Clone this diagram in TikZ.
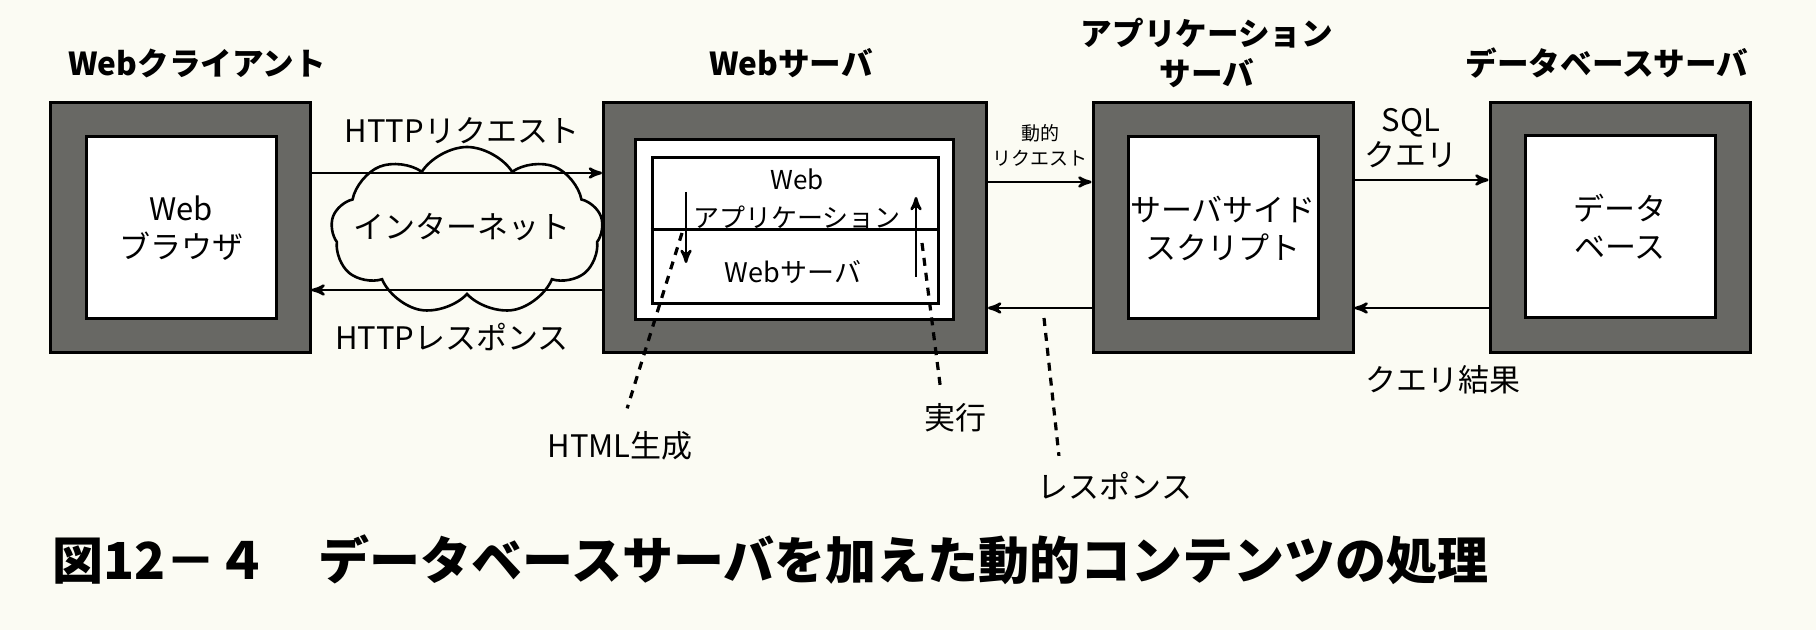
\documentclass[tikz,border=0pt]{standalone}
\usepackage{fontspec}
\setmainfont{Noto Sans CJK JP}
\usepackage{tikz}
\usetikzlibrary{calc}
\usetikzlibrary{positioning}
\usetikzlibrary{shapes}
\usetikzlibrary{arrows}
\definecolor{paper}{RGB}{251,251,243}
\definecolor{frame}{RGB}{104,104,100}
\tikzset{
  lbl/.style = {align=center, inner sep=0pt, text centered,
    font=\fontsize{15.5}{19}\selectfont},
  hdr/.style = {lbl, font=\fontsize{15.8}{20}\selectfont\bfseries},  % title above a box
  srv_out/.style = {rectangle, draw=black, line width=1.5pt, fill=frame,
    minimum width=130pt, minimum height=125pt},                      % gray frame
  srv_in/.style = {lbl, rectangle, draw=black, line width=1.5pt, fill=white,
    minimum width=95pt, minimum height=91pt},                        % white inside
  flow/.style = {->, line width=1.3pt},                              % data arrow
  ptr/.style = {line width=1.6pt, dash pattern=on 4pt off 3.5pt}     % dashed pointer
}

\begin{document}
\begin{tikzpicture}[x=0.5pt, y=-0.5pt, -, >=stealth']
  \fill[paper] (0,0) rectangle (1816,630);
  \useasboundingbox (0,0) rectangle (1816,630);

  % client
  \node[hdr] (cli_hdr) at (197,63) {Webクライアント};
  \node[srv_out] (cli_out) at (180,228) {};
  \node[srv_in] (cli_in) at (181,228) {Web\\ブラウザ};

  % web server
  \node[hdr] (web_hdr) at (791,63) {Webサーバ};
  \node[srv_out, minimum width=191.5pt] (web_out) at (795,228) {};
  \node[srv_out, fill=white, minimum width=159pt, minimum height=90pt] (web_in) at (794,230) {};
  \node[srv_out, fill=white, minimum width=143pt, minimum height=73pt] (web_app) at (795,231) {};
  \draw[line width=1.5pt] (web_app.west |- 0,230) -- (web_app.east |- 0,230);
  \node[lbl, font=\fontsize{13}{19}\selectfont] (app_txt) at (797,199) {Web\\アプリケーション};
  \node[lbl, font=\fontsize{13.5}{19}\selectfont] (srv_txt) at (793,272) {Webサーバ};
  \coordinate (gen_top) at (686,192);
  \coordinate (gen_bot) at (686,263);
  \coordinate (run_bot) at (916,277);
  \coordinate (run_top) at (916,197);
  \draw[flow] (gen_top) -- (gen_bot);
  \draw[flow] (run_bot) -- (run_top);

  % application server
  \node[hdr] (app_hdr) at (1207,53) {アプリケーション\\サーバ};
  \node[srv_out] (app_out) at (1223,228) {};
  \node[srv_in] (app_in) at (1223,228) {サーバサイド\\スクリプト};

  % database server
  \node[hdr] (db_hdr) at (1607,63) {データベースサーバ};
  \node[srv_out] (db_out) at (1620,228) {};
  \node[srv_in] (db_in) at (1620,227) {データ\\ベース};

  % internet
  \node[cloud, cloud puffs=9, cloud puff arc=115, aspect=1.6, draw=black, inner sep=0pt,
    line width=1.3pt, fill=paper, minimum width=136pt, minimum height=84pt]
    (net) at (467,231) {};
  \node[lbl] (net_txt) at (462,227) {インターネット};

  % arrows
  \draw[flow] (cli_out.east |- 0,173) -- (web_out.west |- 0,173);
  \draw[flow] (web_out.west |- 0,290) -- (cli_out.east |- 0,290);
  \draw[flow] (web_out.east |- 0,182) -- (app_out.west |- 0,182);
  \draw[flow] (app_out.west |- 0,308) -- (web_out.east |- 0,308);
  \draw[flow] (app_out.east |- 0,180) -- (db_out.west |- 0,180);
  \draw[flow] (db_out.west |- 0,308) -- (app_out.east |- 0,308);

  \node[lbl] (req_lbl) at (462,131) {HTTPリクエスト};
  \node[lbl] (res_lbl) at (452,337) {HTTPレスポンス};
  \node[lbl, font=\fontsize{9.5}{12.5}\selectfont] (dyn_lbl) at (1040,145) {動的\\リクエスト};
  \node[lbl, font=\fontsize{15.5}{17.5}\selectfont] (sql_lbl) at (1411,138) {SQL\\クエリ};
  \node[lbl] (qres_lbl) at (1443,380) {クエリ結果};

  % pointers
  \node[lbl] (html_lbl) at (620,446) {HTML生成};
  \node[lbl] (exec_lbl) at (955,418) {実行};
  \node[lbl] (resp_lbl) at (1115,486) {レスポンス};
  \coordinate (html_pt) at (682,233);
  \coordinate (exec_pt) at (922,243);
  \coordinate (resp_pt) at (1044,318);
  \draw[ptr, shorten >=12pt] (html_pt) -- (html_lbl.north);
  \draw[ptr, shorten >=9pt] (exec_pt) -- ($(exec_lbl.north west)!0.3!(exec_lbl.north east)$);
  \draw[ptr, shorten >=8pt] (resp_pt) -- ($(resp_lbl.north west)!0.15!(resp_lbl.north east)$);

  % caption
  \node[lbl, anchor=west, font=\fontsize{25.5}{30}\selectfont\bfseries] (cap) at (52,560)
    {図12－４　データベースサーバを加えた動的コンテンツの処理};
\end{tikzpicture}
\end{document}
